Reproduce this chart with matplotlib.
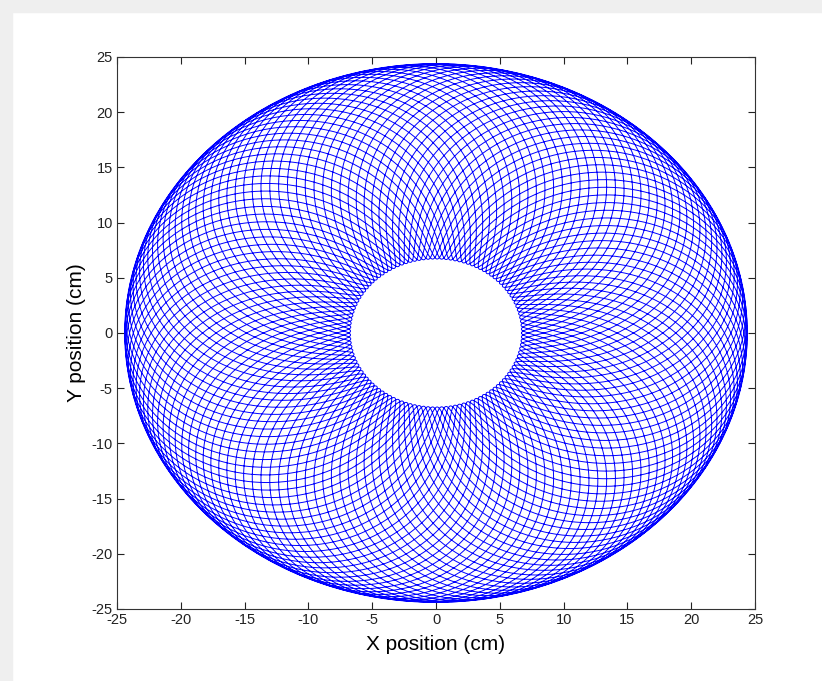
import numpy as np
import matplotlib.pyplot as plt
from matplotlib.patches import Rectangle

# orbit parameters
r_min = 6.7      # inner hole radius (cm)
r_max = 24.4     # outer radius (cm)
n_lobes = 121    # tangent points around the hole
n_turns = 43     # full turns made while those lobes are drawn

x_ticks = [-25, -20, -15, -10, -5, 0, 5, 10, 15, 20, 25]
y_ticks = [-25, -20, -15, -10, -5, 0, 5, 10, 15, 20, 25]

# r^3 swings between r_min^3 and r_max^3, n_lobes times in n_turns turns
mid = (r_max ** 3 + r_min ** 3) / 2
amp = (r_max ** 3 - r_min ** 3) / 2
nu = n_lobes / n_turns
phi = np.linspace(0, 2 * np.pi * n_turns, 400000)
r = np.cbrt(mid - amp * np.cos(nu * phi))
x = r * np.cos(phi)
y = r * np.sin(phi)

plt.rcParams['font.family'] = ['Liberation Sans', 'DejaVu Sans']
plt.rcParams['axes.unicode_minus'] = False

fig = plt.figure(figsize=(8.22, 6.81), dpi=100)
fig.patches.append(Rectangle((0, 1 - 12 / 681), 1, 12 / 681, transform=fig.transFigure,
                             color='#efefef', zorder=0))
fig.patches.append(Rectangle((0, 0), 12 / 822, 1, transform=fig.transFigure,
                             color='#efefef', zorder=0))

ax = fig.add_axes([117 / 822, 1 - 609 / 681, 638 / 822, 552 / 681])
ax.plot(x, y, color='#0000ff', linewidth=0.7)

ax.set_xlim(-25, 25)
ax.set_ylim(-25, 25)
ax.set_xticks(x_ticks)
ax.set_yticks(y_ticks)
ax.tick_params(direction='in', top=True, right=True, length=5, width=0.8,
               labelsize=10.5, colors='#222222', pad=3)
for s in ax.spines.values():
    s.set_linewidth(0.8)
    s.set_color('#333333')

ax.set_xlabel('X position (cm)', fontsize=15, labelpad=6)
ax.set_ylabel('Y position (cm)', fontsize=15, labelpad=4)

fig.savefig('out.png', dpi=100)
